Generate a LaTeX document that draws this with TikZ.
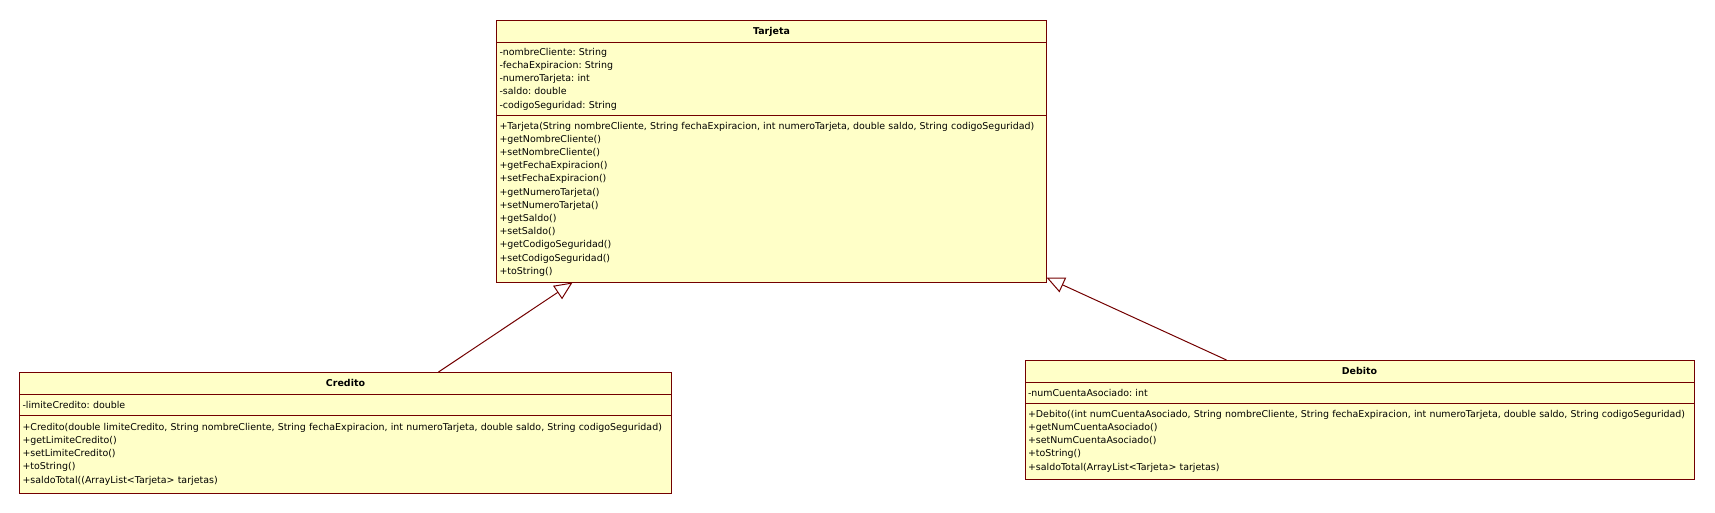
\documentclass[tikz,border=0pt]{standalone}
\usepackage{fontspec}
\setmainfont{DejaVu Sans}
\usepackage{tikz}
\usetikzlibrary{arrows.meta,positioning,calc}

\definecolor{umlborder}{RGB}{115,0,0}
\definecolor{umlfill}{RGB}{255,255,200}
\frenchspacing

\begin{document}
\begin{tikzpicture}[
x=1pt, y=-1pt, line width=1pt,
class-name/.style = {rectangle, draw=umlborder, fill=umlfill, outer sep=0pt, inner xsep=3pt, inner ysep=0pt, align=center, minimum height=22pt, font=\fontsize{9.45}{13.2}\selectfont\bfseries},
class-part/.style = {rectangle, draw=umlborder, fill=umlfill, outer sep=0pt, inner xsep=3pt, inner ysep=0pt, align=left, font=\fontsize{9.45}{13.2}\selectfont},
inherits/.style = {draw=umlborder, -{Triangle[open, length=18pt, width=16pt]}}
]
\useasboundingbox (0,0) rectangle (1715,512);

% Tarjeta
\node [class-name, text width=544pt, anchor=north west] (tarjeta) at (496.5, 20.5) {Tarjeta};
\node [class-part, text width=544pt, minimum height=73pt, below=0pt of tarjeta] (tarjeta-attr) {-nombreCliente: String\\-fechaExpiracion: String\\-numeroTarjeta: int\\-saldo: double\\-codigoSeguridad: String};
\node [class-part, text width=544pt, minimum height=167pt, below=0pt of tarjeta-attr] (tarjeta-ops) {+Tarjeta(String nombreCliente, String fechaExpiracion, int numeroTarjeta, double saldo, String codigoSeguridad)\\+getNombreCliente()\\+setNombreCliente()\\+getFechaExpiracion()\\+setFechaExpiracion()\\+getNumeroTarjeta()\\+setNumeroTarjeta()\\+getSaldo()\\+setSaldo()\\+getCodigoSeguridad()\\+setCodigoSeguridad()\\+toString()};

% Credito
\node [class-name, text width=646pt, anchor=north west] (credito) at (19.5, 372) {Credito};
\node [class-part, text width=646pt, minimum height=21pt, below=0pt of credito] (credito-attr) {-limiteCredito: double};
\node [class-part, text width=646pt, minimum height=78pt, below=0pt of credito-attr] (credito-ops) {+Credito(double limiteCredito, String nombreCliente, String fechaExpiracion, int numeroTarjeta, double saldo, String codigoSeguridad)\\+getLimiteCredito()\\+setLimiteCredito()\\+toString()\\+saldoTotal((ArrayList<Tarjeta> tarjetas)};

% Debito
\node [class-name, text width=663pt, anchor=north west] (debito) at (1025, 360) {Debito};
\node [class-part, text width=663pt, minimum height=21pt, below=0pt of debito] (debito-attr) {-numCuentaAsociado: int};
\node [class-part, text width=663pt, minimum height=76pt, below=0pt of debito-attr] (debito-ops) {+Debito((int numCuentaAsociado, String nombreCliente, String fechaExpiracion, int numeroTarjeta, double saldo, String codigoSeguridad)\\+getNumCuentaAsociado()\\+setNumCuentaAsociado()\\+toString()\\+saldoTotal(ArrayList<Tarjeta> tarjetas)};

% arrows
\draw [inherits] ([xshift=93pt]credito.north) -- ([xshift=-199pt]tarjeta-ops.south);
\draw [inherits] ([xshift=-133pt]debito.north) -- ([yshift=5pt]tarjeta-ops.south east);

\end{tikzpicture}
\end{document}
